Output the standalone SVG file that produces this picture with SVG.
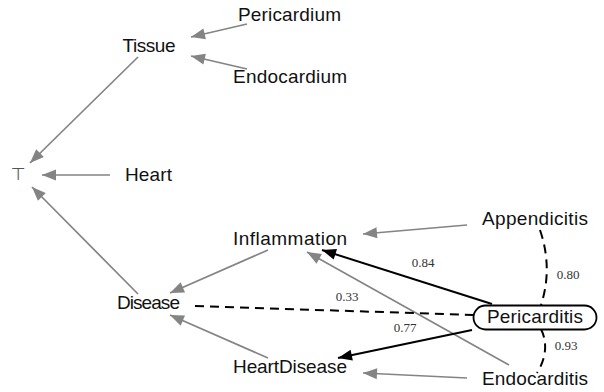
<svg xmlns="http://www.w3.org/2000/svg" width="604" height="392" viewBox="0 0 604 392">
<style>
.n{font-family:"Liberation Sans",Arial,sans-serif;font-size:19px;fill:#111}
.lbl{font-family:"Liberation Serif","Times New Roman",serif;font-size:13px;fill:#333;text-anchor:middle}
.g{stroke:#848484;stroke-width:1.7;fill:none;marker-end:url(#ag)}
.b{stroke:#000;stroke-width:2;fill:none;marker-end:url(#ab)}
.d{stroke:#000;stroke-width:2;fill:none;stroke-dasharray:9 6}
</style>
<defs>
<marker id="ag" markerUnits="userSpaceOnUse" markerWidth="15" markerHeight="12" refX="14" refY="5.5" orient="auto" overflow="visible">
<path d="M0,0 L14,5.5 L0,11 z" fill="#848484"/>
</marker>
<marker id="ab" markerUnits="userSpaceOnUse" markerWidth="15" markerHeight="12" refX="14" refY="5.5" orient="auto" overflow="visible">
<path d="M0,0 L14,5.5 L0,11 z" fill="#000"/>
</marker>
</defs>
<g id="connectors">
<line class="g" x1="247" y1="24" x2="191" y2="37"/>
<line class="g" x1="247" y1="69" x2="191" y2="56"/>
<line class="g" x1="138" y1="57" x2="30" y2="163"/>
<line class="g" x1="110" y1="175" x2="42" y2="175"/>
<line class="g" x1="138" y1="294" x2="32" y2="187"/>
<line class="g" x1="268" y1="250" x2="170" y2="293"/>
<line class="g" x1="268" y1="358" x2="170" y2="315"/>
<line class="g" x1="467" y1="225" x2="363" y2="234"/>
<line class="g" x1="509" y1="365" x2="307" y2="252"/>
<line class="g" x1="467" y1="378" x2="363" y2="373"/>
<line class="b" x1="492" y1="304" x2="322" y2="250"/>
<line class="b" x1="472" y1="330" x2="338" y2="358"/>
<line class="d" x1="195" y1="306" x2="473" y2="315"/>
<path class="d" d="M540,230 Q553,268 541,305"/>
<path class="d" d="M541,329 Q551,350 537,373"/>
<text class="lbl" x="423" y="267">0.84</text>
<text class="lbl" x="568" y="279">0.80</text>
<text class="lbl" x="347" y="301">0.33</text>
<text class="lbl" x="405" y="332">0.77</text>
<text class="lbl" x="566" y="350">0.93</text>
</g>
<g id="top"><text x="18.5" y="180" text-anchor="middle" style="font-family:'DejaVu Sans',sans-serif;font-size:17px;fill:#555555">⊤</text></g>
<g id="Pericardium"><text class="n" x="238" y="21" textLength="103">Pericardium</text></g>
<g id="Tissue"><text class="n" x="122.5" y="52" textLength="53">Tissue</text></g>
<g id="Endocardium"><text class="n" x="233" y="83" textLength="114">Endocardium</text></g>
<g id="Heart"><text class="n" x="125" y="181" textLength="47">Heart</text></g>
<g id="Inflammation"><text class="n" x="233" y="245" textLength="114">Inflammation</text></g>
<g id="Appendicitis"><text class="n" x="482" y="225" textLength="106">Appendicitis</text></g>
<g id="Disease"><text class="n" x="117" y="309" textLength="63">Disease</text></g>
<g id="Pericarditis"><rect x="473.5" y="305.5" width="123" height="24" rx="12" ry="12" fill="#fff" stroke="#000" stroke-width="1.8"/><text class="n" x="487" y="323" textLength="96">Pericarditis</text></g>
<g id="HeartDisease"><text class="n" x="233" y="373" textLength="114">HeartDisease</text></g>
<g id="Endocarditis"><text class="n" x="482" y="385" textLength="106">Endocarditis</text></g>
</svg>
